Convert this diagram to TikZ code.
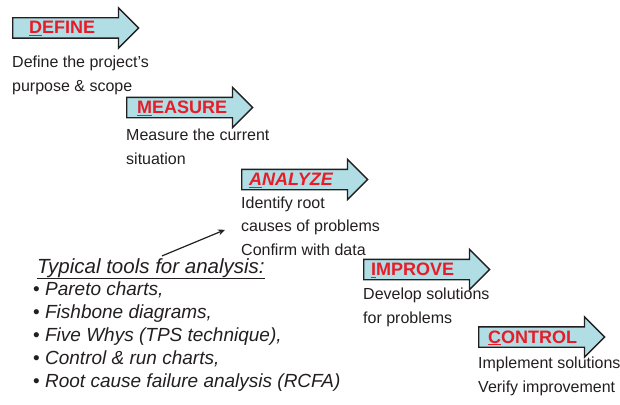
\documentclass[tikz,border=0pt]{standalone}
\usepackage{fontspec}
\setmainfont{Liberation Sans}
\usetikzlibrary{shapes.arrows,arrows.meta,positioning}

\definecolor{phasefill}{RGB}{176,222,228}
\definecolor{phasered}{RGB}{232,28,40}
\definecolor{inkgray}{RGB}{35,31,32}

\tikzset{
  phasearrow/.style={draw=inkgray, line width=1.4pt, fill=phasefill, single arrow,
    single arrow head extend=10pt, single arrow tip angle=90, inner xsep=0pt,
    inner ysep=9.5pt, minimum height=126pt, anchor=tail},
  phaselabel/.style={text=phasered, font=\fontsize{18}{20}\selectfont\bfseries, inner sep=0pt, anchor=base west},
  phasetext/.style={text=inkgray, font=\fontsize{16}{23.5}\selectfont, align=left, inner sep=0pt, anchor=base west},
  pointer/.style={draw=inkgray, line width=1.2pt, -{Stealth[length=7pt,width=6pt]}}
}

\begin{document}
\begin{tikzpicture}[x=1pt, y=-1pt]
  \useasboundingbox (0,0) rectangle (620,404);

  % the five phases (text nodes sit on the baseline of their last line)
  \node[phasearrow] (define) at (12,28) {};
  \node[phaselabel] (definelabel) at ([shift={(17,6)}]define.tail) {\underline{D}EFINE};
  \node[phasetext] (definetext) at ([shift={(0,63)}]define.tail) {Define the project's\\purpose \& scope};

  \node[phasearrow] (measure) at (126,107.5) {};
  \node[phaselabel] (measurelabel) at ([shift={(11,6)}]measure.tail) {\underline{M}EASURE};
  \node[phasetext] (measuretext) at ([shift={(0,56.5)}]measure.tail) {Measure the current\\situation};

  \node[phasearrow] (analyze) at (241,179.5) {};
  \node[phaselabel] (analyzelabel) at ([shift={(8,6)}]analyze.tail) {\itshape\underline{A}NALYZE};
  \node[phasetext] (analyzetext) at ([shift={(0,75.5)}]analyze.tail) {Identify root\\causes of problems\\Confirm with data};

  \node[phasearrow] (improve) at (363,269.5) {};
  \node[phaselabel] (improvelabel) at ([shift={(8,6)}]improve.tail) {\underline{I}MPROVE};
  \node[phasetext] (improvetext) at ([shift={(0,53.5)}]improve.tail) {Develop solutions\\for problems};

  \node[phasearrow] (control) at (478,337) {};
  \node[phaselabel] (controllabel) at ([shift={(10,6)}]control.tail) {\underline{C}ONTROL};
  \node[phasetext] (controltext) at ([shift={(0,55)}]control.tail) {Implement solutions\\Verify improvement};

  % analysis tools
  \node[phasetext, font=\fontsize{20.5}{23}\selectfont\itshape] (tools) at (37,273) {\underline{Typical tools for analysis:}};
  \node[phasetext, font=\fontsize{19}{23}\selectfont] (toollist) at (33,387)
    {\textbullet\ \textit{Pareto charts,}\\
     \textbullet\ \textit{Fishbone diagrams,}\\
     \textbullet\ \textit{Five Whys (TPS technique),}\\
     \textbullet\ \textit{Control \& run charts,}\\
     \textbullet\ \textit{Root cause failure analysis (RCFA)}};

  \draw[pointer] ([shift={(11,-2)}]tools.north) -- ([shift={(-16,4)}]analyzetext.west);
\end{tikzpicture}
\end{document}
